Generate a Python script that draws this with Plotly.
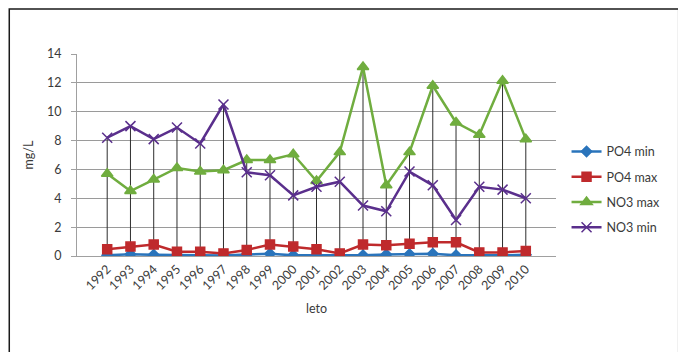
import plotly.graph_objects as go

years = [str(y) for y in range(1992, 2011)]
po4_min = [0.05, 0.12, 0.08, 0.05, 0.05, 0.03, 0.1, 0.15, 0.05, 0.05, 0.03, 0.05, 0.1, 0.12, 0.15, 0.05, 0.03, 0.05, 0.08]
po4_max = [0.46, 0.65, 0.8, 0.3, 0.3, 0.18, 0.42, 0.8, 0.65, 0.46, 0.18, 0.8, 0.75, 0.85, 0.95, 0.95, 0.25, 0.25, 0.35]
no3_max = [5.7, 4.5, 5.3, 6.1, 5.85, 5.95, 6.65, 6.65, 7.05, 5.2, 7.2, 13.1, 4.9, 7.2, 11.8, 9.25, 8.4, 12.15, 8.1]
no3_min = [8.2, 9.0, 8.1, 8.9, 7.8, 10.5, 5.8, 5.6, 4.2, 4.8, 5.15, 3.5, 3.1, 5.85, 4.9, 2.5, 4.8, 4.6, 4.0]

FONT = "Lato, 'Open Sans', sans-serif"
TXT = "#3a3a3a"

fig = go.Figure()

# drop lines from the highest value of each year down to the axis
dx, dy = [], []
for i, yr in enumerate(years):
    top = max(po4_min[i], po4_max[i], no3_max[i], no3_min[i])
    dx += [yr, yr, None]
    dy += [0, top, None]
fig.add_trace(go.Scatter(x=dx, y=dy, mode="lines", line=dict(color="#2e2e2e", width=1),
                         showlegend=False, hoverinfo="skip"))

series = [
    ("PO4 min", po4_min, "#2a74bb", "diamond", 8),
    ("PO4 max", po4_max, "#bf2a2c", "square", 9),
    ("NO3 max", no3_max, "#70ad3f", "triangle-up", 10),
    ("NO3 min", no3_min, "#5a2f8c", "x-thin", 10),
]
for k, (name, vals, col, sym, sz) in enumerate(series):
    fig.add_trace(go.Scatter(
        x=years, y=vals, name=name, mode="lines+markers", legendgroup=name,
        line=dict(color=col, width=2.5),
        marker=dict(symbol=sym, size=sz, color=col, line=dict(color=col, width=1.5)),
    ))

fig.update_layout(
    width=678, height=352,
    margin=dict(l=77, r=113, t=54, b=96),
    paper_bgcolor="white", plot_bgcolor="white",
    font=dict(family=FONT, size=12, color=TXT),
    legend=dict(x=1.022, y=0.33, xanchor="left", yanchor="middle",
                font=dict(size=12.5, color=TXT), traceorder="grouped",
                tracegroupgap=6, itemwidth=30, bgcolor="rgba(0,0,0,0)"),
    xaxis=dict(type="category", tickangle=-45, showgrid=False,
               showline=True, linecolor="#a0a0a0", ticks="",
               tickfont=dict(size=12.5, color=TXT),
               title=dict(text="leto", font=dict(size=12.5, color=TXT), standoff=12)),
    yaxis=dict(range=[0, 14], dtick=2, showgrid=True, gridcolor="#9a9a9a", gridwidth=1,
               showline=True, linecolor="#a0a0a0", ticks="outside", ticklen=5,
               tickcolor="#a0a0a0", zeroline=False, ticklabelstandoff=7,
               tickfont=dict(size=12.5, color=TXT),
               title=dict(text="mg/L", font=dict(size=12.5, color=TXT), standoff=10)),
    shapes=[dict(type="rect", xref="paper", yref="paper",
                 x0=(8 - 77) / 488, x1=(690 - 77) / 488,
                 y0=(256 - 370) / 202, y1=1 + (54 - 9) / 202,
                 line=dict(color="#1a1a1a", width=1.5), layer="below")],
)

fig.write_html("out.html")
